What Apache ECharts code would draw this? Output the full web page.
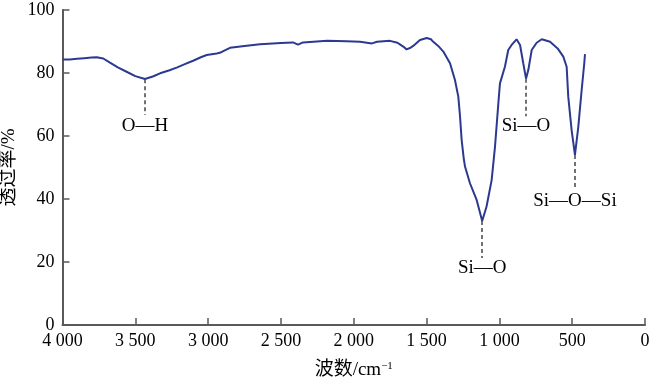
<!DOCTYPE html>
<html>
<head>
<meta charset="utf-8">
<script src="https://cdn.jsdelivr.net/npm/echarts@6/dist/echarts.min.js"></script>
<style>html,body{margin:0;padding:0;background:#fff;}#c{width:650px;height:386px;}</style>
</head>
<body>
<div id="c"></div>
<script>
// Wavenumber (cm^-1) and transmittance (%)
var wavenumbers = [4000,3950,3900,3850,3800,3765,3720,3674,3620,3560,3500,3434,3380,3330,3270,3216,3160,3103,3050,3010,2941,2920,2907,2850,2750,2644,2500,2417,2383,2348,2183,2050,1957,1875,1840,1751,1700,1683,1660,1637,1610,1592,1545,1499,1470,1454,1420,1385,1339,1305,1282,1270,1259,1245,1236,1202,1156,1118,1088,1053,1030,1007,996,962,939,916,882,858,836,817,801,778,744,709,652,600,561,538,527,504,481,458,435,417,412];
var transmittance = [84.3,84.3,84.5,84.7,84.9,85.0,84.6,83.3,81.8,80.4,79.0,78.1,78.9,79.9,80.8,81.7,82.8,83.9,85.0,85.7,86.2,86.4,87.0,88.0,88.6,89.1,89.5,89.7,89.0,89.7,90.2,90.1,89.9,89.4,89.9,90.2,89.6,89.1,88.4,87.5,88.0,88.6,90.5,91.1,90.7,89.9,88.6,86.8,83.1,77.8,72.5,66.1,58.7,53.0,50.3,45.0,39.7,33.0,37.6,46.0,56.6,70.4,76.7,82.0,87.3,88.9,90.7,88.9,83.1,78.2,81.0,87.3,89.6,90.7,89.9,87.8,85.2,82.0,72.5,61.9,54.0,62.9,74.6,83.1,86.0];

// Peak annotations: label, wavenumber, line top, line bottom, label y
var annLabels = ['O\u2014H', 'Si\u2014O', 'Si\u2014O', 'Si\u2014O\u2014Si'];
var annX = [3433, 1118, 817, 481];
var annTop = [78.0, 33.0, 78.2, 54.0];
var annBottom = [66.7, 21.3, 66.3, 42.9];
var annTextY = [63.2, 18.1, 63.2, 39.4];

var xTicks = ['0','500','1 000','1 500','2 000','2 500','3 000','3 500','4 000'];

var seriesData = wavenumbers.map(function (w, i) { return [w, transmittance[i]]; });

var serif = '"Liberation Serif","Times New Roman","Noto Sans CJK SC",serif';
var axisColor = '#5a5a5a';

var chart = echarts.init(document.getElementById('c'), null, {renderer: 'canvas'});
chart.setOption({
  animation: false,
  backgroundColor: '#ffffff',
  grid: {left: 62.5, right: 5, top: 10, bottom: 61, containLabel: false, outerBoundsMode: 'none'},
  xAxis: {
    type: 'value', min: 0, max: 4000, interval: 500, inverse: true,
    name: '{a|波数/cm}{s|\u22121}',
    nameLocation: 'middle', nameGap: 36, nameMoveOverlap: false,
    nameTextStyle: {
      rich: {
        a: {fontFamily: serif, fontSize: 19, color: '#000', verticalAlign: 'bottom'},
        s: {fontFamily: serif, fontSize: 11, color: '#000', verticalAlign: 'top', padding: [0, 0, 8, 0]}
      }
    },
    axisLine: {show: true, onZero: false, lineStyle: {color: axisColor, width: 2}},
    axisTick: {show: true, inside: true, length: 7, lineStyle: {color: axisColor, width: 1.5}},
    axisLabel: {
      color: '#000', fontFamily: serif, fontSize: 18, margin: 7,
      formatter: function (v) { return xTicks[Math.round(v / 500)]; }
    },
    splitLine: {show: false}
  },
  yAxis: {
    type: 'value', min: 0, max: 100, interval: 20, position: 'left',
    name: '透过率/%', nameLocation: 'middle', nameGap: 44, nameRotate: 90, nameMoveOverlap: false,
    nameTextStyle: {fontFamily: serif, fontSize: 19, color: '#000'},
    axisLine: {show: true, onZero: false, lineStyle: {color: axisColor, width: 2}},
    axisTick: {show: true, inside: true, length: 7, lineStyle: {color: axisColor, width: 1.5}},
    axisLabel: {color: '#000', fontFamily: serif, fontSize: 18, margin: 8},
    splitLine: {show: false}
  },
  series: [{
    type: 'line',
    data: seriesData,
    showSymbol: false,
    smooth: false,
    lineStyle: {color: '#2b3990', width: 2},
    markLine: {
      silent: true, symbol: ['none', 'none'],
      label: {show: false},
      lineStyle: {type: [4, 3], color: '#444', width: 1.5},
      data: annX.map(function (x, i) {
        return [{coord: [x, annTop[i]]}, {coord: [x, annBottom[i]]}];
      })
    },
    markPoint: {
      silent: true, symbol: 'circle', symbolSize: 0,
      label: {show: true, position: 'inside', color: '#000', fontFamily: serif, fontSize: 19,
        formatter: function (p) { return p.name; }},
      data: annX.map(function (x, i) {
        return {name: annLabels[i], coord: [x, annTextY[i]]};
      })
    }
  }]
});
</script>
</body>
</html>
